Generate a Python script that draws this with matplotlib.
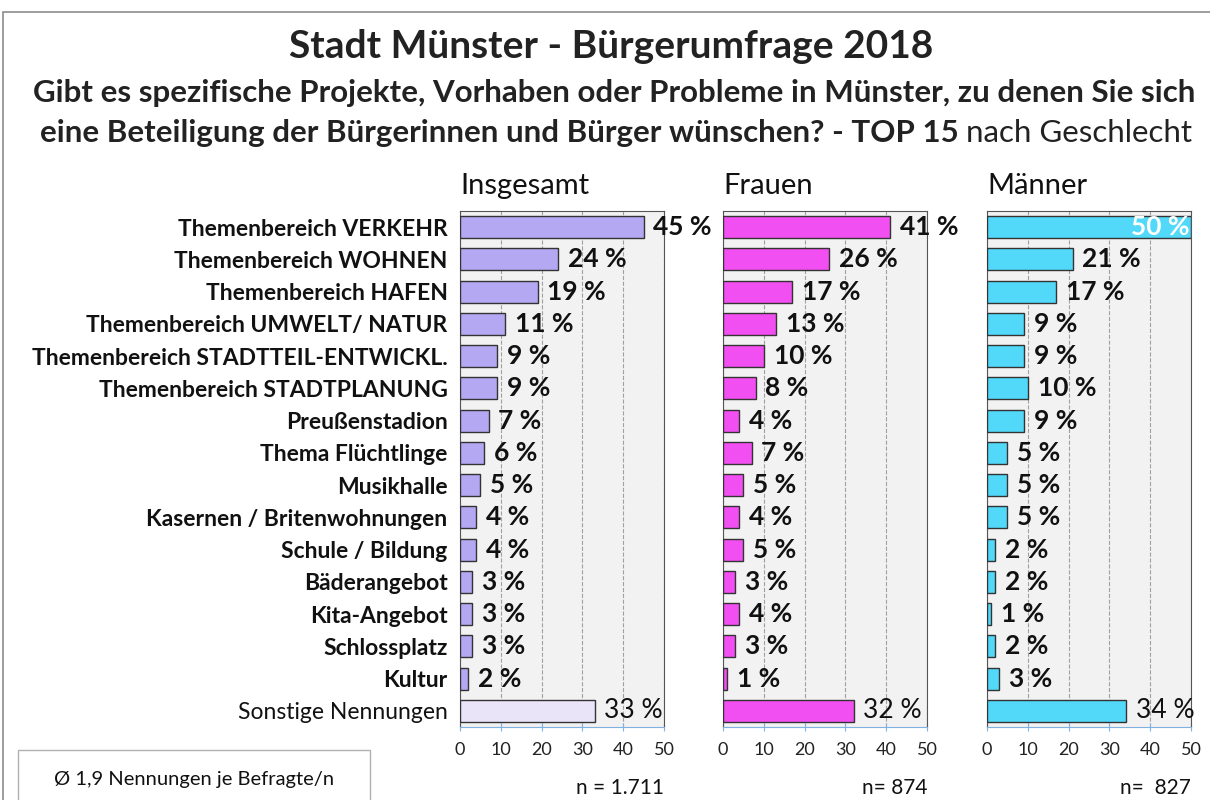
import numpy as np
import matplotlib.pyplot as plt
from matplotlib.patches import Rectangle

plt.rcParams['font.family'] = ['Lato', 'DejaVu Sans']

# Daten
kategorien = ["Themenbereich VERKEHR", "Themenbereich WOHNEN", "Themenbereich HAFEN",
              "Themenbereich UMWELT/ NATUR", "Themenbereich STADTTEIL-ENTWICKL.",
              "Themenbereich STADTPLANUNG", "Preußenstadion", "Thema Flüchtlinge",
              "Musikhalle", "Kasernen / Britenwohnungen", "Schule / Bildung",
              "Bäderangebot", "Kita-Angebot", "Schlossplatz", "Kultur", "Sonstige Nennungen"]
insgesamt = [45, 24, 19, 11, 9, 9, 7, 6, 5, 4, 4, 3, 3, 3, 2, 33]
frauen = [41, 26, 17, 13, 10, 8, 4, 7, 5, 4, 5, 3, 4, 3, 1, 32]
maenner = [50, 21, 17, 9, 9, 10, 9, 5, 5, 5, 2, 2, 1, 2, 3, 34]
gruppen = ["Insgesamt", "Frauen", "Männer"]
n_texte = ["n = 1.711", "n= 874", "n=  827"]

farben = ["#b4a8f2", "#f24ff2", "#52d8f8"]
farben_sonst = ["#e9e4f8", "#f24ff2", "#52d8f8"]

fig = plt.figure(figsize=(12.1, 8), dpi=100)

# Rahmen um die Grafik
fig.patches.append(Rectangle((3 / 1210, -0.05), 1.2, 1 - 12 / 800 + 0.05,
                             transform=fig.transFigure, fill=False,
                             edgecolor="#8c8c8c", linewidth=1.2))

fig.text(0.505, 0.942, "Stadt Münster - Bürgerumfrage 2018", ha="center", va="center",
         fontsize=28, fontweight="bold", color="#222222")
fig.text(0.508, 0.884, "Gibt es spezifische Projekte, Vorhaben oder Probleme in Münster, zu denen Sie sich",
         ha="center", va="center", fontsize=22.5, fontweight="bold", color="#222222")
t = fig.text(0.033, 0.834, "eine Beteiligung der Bürgerinnen und Bürger wünschen? - TOP 15 ",
             ha="left", va="center", fontsize=22.5, fontweight="bold", color="#222222")
fig.canvas.draw()
bb = t.get_window_extent()
fig.text(bb.x1 / fig.bbox.width, 0.834, "nach Geschlecht", ha="left", va="center",
         fontsize=22.5, color="#222222")

links = [460, 723, 987]
werte_alle = [insgesamt, frauen, maenner]
y = np.arange(len(kategorien))

for i, werte in enumerate(werte_alle):
    ax = fig.add_axes([links[i] / 1210, 1 - 727 / 800, 204 / 1210, 516 / 800])
    ax.set_facecolor("#f2f2f2")
    cols = [farben[i]] * (len(werte) - 1) + [farben_sonst[i]]
    ax.barh(y, werte, height=0.68, color=cols, edgecolor="#333333", linewidth=1, zorder=3)
    ax.set_xlim(0, 50)
    ax.set_ylim(len(kategorien) - 0.5, -0.5)
    ax.set_xticks(range(0, 51, 10))
    ax.tick_params(axis="x", labelsize=13, colors="#7fb2e0", labelcolor="#222222",
                   length=6, direction="inout", pad=8)
    ax.grid(axis="x", linestyle="--", color="#a0a0a0", linewidth=0.8, zorder=0)
    for s in ["top", "left", "right"]:
        ax.spines[s].set_color("#555555")
    ax.spines["bottom"].set_color("#7fb2e0")
    if i == 0:
        ax.set_yticks(y)
        ax.set_yticklabels(kategorien, fontsize=16.5)
        for lab in ax.get_yticklabels()[:-1]:
            lab.set_fontweight("bold")
        ax.tick_params(axis="y", length=0, pad=9, labelcolor="#111111")
    else:
        ax.set_yticks([])
    ax.set_title(gruppen[i], loc="left", fontsize=21, pad=12, color="#111111")

    for j, v in enumerate(werte):
        sonst = j == len(werte) - 1
        if v >= 50:
            ax.text(v - 0.3, j, f"{v} %", ha="right", va="center", fontsize=19,
                    fontweight="bold", color="white", zorder=4)
        else:
            ax.text(v + 2.4, j, f"{v} %", ha="left", va="center", fontsize=19,
                    fontweight="normal" if sonst else "bold", color="#111111", zorder=4,
                    clip_on=False)
    ax.text(1.0, -0.118, n_texte[i], transform=ax.transAxes, ha="right", va="center",
            fontsize=15, color="#111111")

# Hinweisbox
fig.patches.append(Rectangle((18 / 1210, -0.05), 352 / 1210, 0.05 + 1 - 750 / 800,
                             transform=fig.transFigure, fill=False,
                             edgecolor="#b0b0b0", linewidth=1))
fig.text(194 / 1210, 1 - 780 / 800, "Ø 1,9 Nennungen je Befragte/n", ha="center", va="center",
         fontsize=14.5, color="#111111")

plt.savefig("out.png", dpi=100)
